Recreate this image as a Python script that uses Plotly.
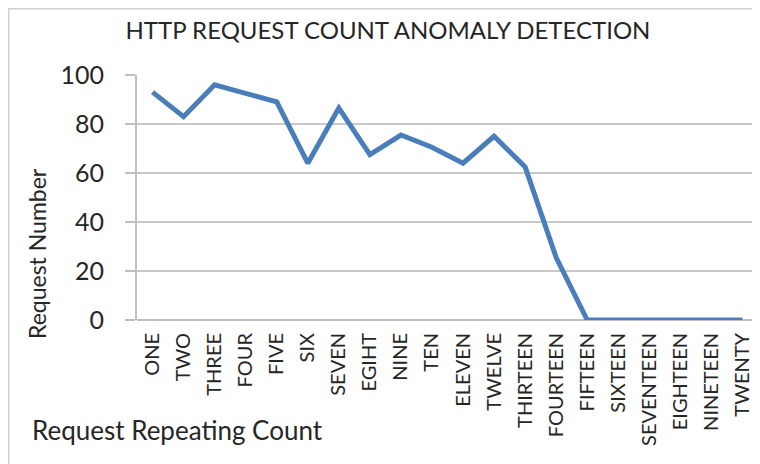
import plotly.graph_objects as go

categories = ["ONE", "TWO", "THREE", "FOUR", "FIVE", "SIX", "SEVEN", "EGIHT", "NINE", "TEN",
              "ELEVEN", "TWELVE", "THIRTEEN", "FOURTEEN", "FIFTEEN", "SIXTEEN", "SEVENTEEN",
              "EIGHTEEN", "NINETEEN", "TWENTY"]
request_number = [93, 83, 96, 92.5, 89, 64, 86.5, 67.5, 75.5, 70.5,
                  64, 75, 62.5, 25.5, 0, 0, 0, 0, 0, 0]
y_ticks = [0, 20, 40, 60, 80, 100]

FONT = "Lato"
OFF = 8  # browser body margin

W, H = 760 - OFF, 464 - OFF
L, T = 137 - OFF, 75 - OFF
R = W - (758 - OFF)
B = H - (320 - OFF)
pw, ph = W - L - R, H - T - B


def px(xa):
    return (xa - OFF - L) / pw


def py(ya):
    return (H - B - (ya - OFF)) / ph


fig = go.Figure()
fig.add_trace(go.Scatter(
    x=categories, y=request_number, mode="lines",
    line=dict(color="#4A7EBB", width=5),
    showlegend=False,
))

fig.update_layout(
    width=W, height=H,
    margin=dict(l=L, r=R, t=T, b=B),
    paper_bgcolor="white", plot_bgcolor="white",
    font=dict(family=FONT, color="#262626"),
    title=dict(text="HTTP REQUEST COUNT ANOMALY DETECTION", x=(388 - OFF) / W, xanchor="center",
               y=1 - (31 - OFF) / H, yanchor="middle", font=dict(size=24, family=FONT, color="#262626")),
)

fig.update_xaxes(
    type="category", tickangle=-90, tickfont=dict(size=20, family=FONT, color="#262626"),
    showgrid=False, showline=False, ticks="", ticklabelstandoff=8,
    range=[-0.5, len(categories) - 0.5],
)
fig.update_yaxes(
    range=[0, 100], tickvals=y_ticks, tickfont=dict(size=25, family=FONT, color="#262626"),
    showgrid=True, gridcolor="#C8C8C8", gridwidth=2,
    zeroline=True, zerolinecolor="#BFBFBF", zerolinewidth=2,
    showline=True, linecolor="#BFBFBF", linewidth=2,
    ticks="outside", ticklen=10, tickcolor="#BFBFBF", tickwidth=2,
    ticklabelstandoff=16,
)

fig.add_annotation(text="Request Number", xref="paper", yref="paper",
                   x=px(37), y=py(254), textangle=-90,
                   showarrow=False, font=dict(size=23, family=FONT, color="#262626"),
                   xanchor="center", yanchor="middle")
fig.add_annotation(text="Request Repeating Count", xref="paper", yref="paper",
                   x=px(30), y=py(430),
                   showarrow=False, font=dict(size=26, family=FONT, color="#262626"),
                   xanchor="left", yanchor="middle")

fig.add_shape(type="rect", xref="paper", yref="paper",
              x0=px(8.5), x1=px(758), y0=py(470), y1=py(8.5),
              line=dict(color="#D0D0D0", width=2), layer="below")

fig.write_html("out.html")
